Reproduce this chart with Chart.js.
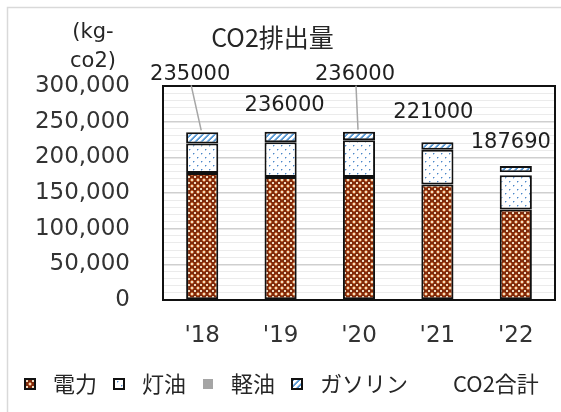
<!DOCTYPE html>
<html>
<head>
<meta charset="utf-8">
<script src="https://cdn.jsdelivr.net/npm/chart.js@4/dist/chart.umd.min.js"></script>
<style>
  html, body { margin: 0; padding: 0; background: #fff; }
  #c { display: block; }
</style>
</head>
<body>
<canvas id="c" width="561" height="412"></canvas>
<script>
// CO2 emissions per fiscal year (kg-co2), split by energy source
const years       = ["'18", "'19", "'20", "'21", "'22"];
const electricity = [178000, 172500, 172500, 162000, 127000]; // 電力
const kerosene    = [41500, 48500, 51500, 48500, 48000];      // 灯油
const lightOil    = [0, 0, 0, 0, 4000];                       // 軽油
const gasoline    = [15500, 15000, 12000, 10500, 8690];       // ガソリン
const totals      = [235000, 236000, 236000, 221000, 187690]; // CO2合計
const yTicks      = [0, 50000, 100000, 150000, 200000, 250000, 300000];

const LATIN = '"DejaVu Sans", sans-serif';
const CJK = '"Noto Sans CJK JP", "Noto Sans", sans-serif';

// Build a repeating fill from a small pixel map
function tile(rows, colors) {
  const h = rows.length, w = rows[0].length;
  const cv = document.createElement('canvas');
  cv.width = w; cv.height = h;
  const cx = cv.getContext('2d');
  for (let y = 0; y < h; y++) {
    for (let x = 0; x < w; x++) {
      cx.fillStyle = colors[rows[y][x]];
      cx.fillRect(x, y, 1, 1);
    }
  }
  return cv;
}

const elecTile = tile([
  "CODDOC",
  "ODDDDO",
  "DDCCDD",
  "DDCCDD",
  "ODDDDO",
  "CODDOC"
], { C: '#F1DCC0', O: '#C0622E', D: '#7E2A0C' });

const keroTile = tile([
  "WWWWWWWW",
  "WBLWWWWW",
  "WLWWWWWW",
  "WWWWWWWW",
  "WWWWWWWW",
  "WWWWWBLW",
  "WWWWWLWW",
  "WWWWWWWW"
], { W: '#FFFFFF', B: '#4C86C6', L: '#B3CDEA' });

const gasTile = tile([
  "BBWWWL",
  "BWWWLB",
  "WWWLBB",
  "WWLBBW",
  "WLBBWW",
  "LBBWWW"
], { W: '#FFFFFF', B: '#5B9BD5', L: '#A9C9EA' });

const ctx0 = document.getElementById('c').getContext('2d');
const elecFill = ctx0.createPattern(elecTile, 'repeat');
const keroFill = ctx0.createPattern(keroTile, 'repeat');
const gasFill  = ctx0.createPattern(gasTile, 'repeat');

// Where each total label sits relative to the top of its bar, and whether it gets a leader line
const labelShift = [[-12, -58], [4, -26], [-4, -57], [-4, -30], [-5, -24]];
const labelLeader = [true, false, true, false, false];

const decor = {
  id: 'decor',
  beforeDraw(chart) {
    const c = chart.ctx;
    c.save();
    c.fillStyle = '#fff';
    c.fillRect(0, 0, chart.width, chart.height);
    c.strokeStyle = '#D9D9D9';
    c.lineWidth = 1.5;
    c.strokeRect(7.5, 7.5, chart.width + 40, chart.height + 40);
    c.restore();
  },
  beforeDatasetsDraw(chart) {
    const a = chart.chartArea, c = chart.ctx;
    c.save();
    c.strokeStyle = '#111';
    c.lineWidth = 2;
    c.strokeRect(a.left, a.top, a.right - a.left, a.bottom - a.top);
    c.restore();
  },
  afterDraw(chart) {
    const c = chart.ctx, a = chart.chartArea;
    c.save();
    // title
    c.fillStyle = '#262626';
    c.font = '25px ' + CJK;
    c.textAlign = 'center';
    c.textBaseline = 'middle';
    c.fillText('CO2排出量', chart.width / 2 - 8, 37);
    // unit
    c.fillStyle = '#262626';
    c.font = '21px ' + LATIN;
    c.fillText('(kg-', a.left - 70, 33);
    c.fillText('co2)', a.left - 70, 62);

    // total labels
    const meta = chart.getDatasetMeta(chart.data.datasets.length - 1);
    c.font = '21px ' + LATIN;
    meta.data.forEach((pt, i) => {
      const [dx, dy] = labelShift[i];
      const lx = pt.x + dx, ly = pt.y + dy;
      if (labelLeader[i]) {
        c.strokeStyle = '#A6A6A6';
        c.lineWidth = 1.5;
        c.beginPath();
        c.moveTo(lx + 1, ly + 11);
        c.lineTo(pt.x - 1, pt.y - 2);
        c.stroke();
      }
      c.fillStyle = '#1f1f1f';
      c.fillText(String(chart.data.datasets[meta.index].data[i]), lx, ly);
    });

    // legend row
    c.font = '22px ' + CJK;
    c.textAlign = 'left';
    let x = 25;
    const y = 384;
    chart.data.datasets.forEach(ds => {
      if (ds.swatch) {
        c.fillStyle = ds.swatch;
        c.fillRect(x, y - 5, 10, 10);
        if (ds.swatchBorder) {
          c.strokeStyle = '#111';
          c.lineWidth = 2;
          c.strokeRect(x, y - 5, 10, 10);
        }
      }
      const tx = x + 28;
      c.fillStyle = '#262626';
      c.fillText(ds.label, tx, y);
      x = tx + c.measureText(ds.label).width + 17;
    });
    c.restore();
  }
};

const barBase = { borderColor: '#111', borderWidth: 2, borderSkipped: false, stack: 'src' };

new Chart(ctx0, {
  data: {
    labels: years,
    datasets: [
      Object.assign({ type: 'bar', label: '電力', data: electricity, backgroundColor: elecFill, swatch: elecFill, swatchBorder: true }, barBase),
      Object.assign({ type: 'bar', label: '灯油', data: kerosene, backgroundColor: keroFill, swatch: keroFill, swatchBorder: true }, barBase),
      { type: 'bar', label: '軽油', data: lightOil, backgroundColor: '#FFFFFF', borderWidth: 0, stack: 'src', swatch: '#A5A5A5', swatchBorder: false },
      Object.assign({ type: 'bar', label: 'ガソリン', data: gasoline, backgroundColor: gasFill, swatch: gasFill, swatchBorder: true }, barBase),
      { type: 'line', label: 'CO2合計', data: totals, showLine: false, pointRadius: 0, stack: 'total', swatch: null }
    ]
  },
  options: {
    responsive: false,
    animation: false,
    layout: { padding: { left: 35, right: 6, top: 86, bottom: 62 } },
    datasets: { bar: { categoryPercentage: 1, barPercentage: 0.41 } },
    plugins: {
      legend: { display: false },
      title: { display: false },
      tooltip: { enabled: false }
    },
    scales: {
      x: {
        stacked: true,
        offset: true,
        grid: { display: false, drawTicks: false },
        border: { display: false },
        ticks: { color: '#333', font: { family: LATIN, size: 23 }, padding: 22 },
        afterFit(s) { s.height = 50; }
      },
      y: {
        stacked: true,
        min: 0,
        max: 300000,
        border: { display: false },
        grid: {
          drawTicks: false,
          color: ctx => (ctx.tick && yTicks.includes(ctx.tick.value)) ? '#CFCFCF' : '#EBEBEB',
          lineWidth: ctx => (ctx.tick && yTicks.includes(ctx.tick.value)) ? 1.5 : 1
        },
        ticks: {
          stepSize: 10000,
          autoSkip: false,
          padding: 33,
          color: '#333',
          font: { family: LATIN, size: 23 },
          callback: v => yTicks.includes(v) ? v.toLocaleString('en-US') : ''
        },
        afterFit(s) { s.width = 128; }
      }
    }
  },
  plugins: [decor]
});
</script>
</body>
</html>
